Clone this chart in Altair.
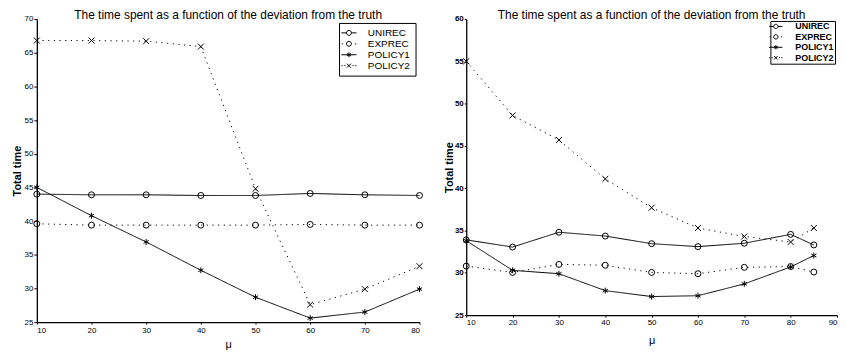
import altair as alt
import pandas as pd

series_names = ["UNIREC", "EXPREC", "POLICY1", "POLICY2"]

# Left panel
mu_left = [10, 20, 30, 40, 50, 60, 70, 80]
unirec_left = [44.0, 43.9, 43.9, 43.8, 43.8, 44.1, 43.9, 43.8]
exprec_left = [39.6, 39.4, 39.4, 39.4, 39.4, 39.5, 39.4, 39.4]
policy1_left = [45.0, 40.8, 36.9, 32.7, 28.7, 25.6, 26.5, 29.9]
policy2_left = [66.8, 66.8, 66.7, 65.9, 44.8, 27.6, 29.9, 33.3]

# Right panel
mu_right = [10, 20, 30, 40, 50, 60, 70, 80, 85]
unirec_right = [33.9, 33.05, 34.8, 34.35, 33.45, 33.1, 33.5, 34.55, 33.3]
exprec_right = [30.8, 30.05, 31.0, 30.9, 30.05, 29.9, 30.65, 30.75, 30.1]
policy1_right = [33.8, 30.3, 29.9, 27.9, 27.2, 27.3, 28.7, 30.7, 32.05]
policy2_right = [55.0, 48.6, 45.7, 41.1, 37.7, 35.3, 34.3, 33.65, 35.3]

ASTERISK = "M0,-1V1M-0.87,-0.5L0.87,0.5M-0.87,0.5L0.87,-0.5"
XMARK = "M-1,-1L1,1M-1,1L1,-1"
point_shapes = ["circle", "circle", ASTERISK, XMARK]
point_sizes = [36, 36, 18, 18]
dashes = [[1, 0], [1.2, 4.5], [1, 0], [1.2, 4.5]]

CIRC = "M0.62,0A0.62,0.62 0 1,1 -0.62,0A0.62,0.62 0 1,1 0.62,0Z"
legend_paths = [
    "M-1.9,0H-0.62M0.62,0H1.9" + CIRC,
    "M-1.8,0h0.3M1.5,0h0.3" + CIRC,
    "M-1.9,0H1.9M0,-0.6V0.6M-0.52,-0.3L0.52,0.3M-0.52,0.3L0.52,-0.3",
    "M-1.9,0h0.3M-1.2,0h0.3M0.9,0h0.3M1.6,0h0.3M-0.5,-0.5L0.5,0.5M-0.5,0.5L0.5,-0.5",
]

FONT = "Liberation Sans"
TITLE = "The time spent as a function of the deviation from the truth"


def make_df(mu, cols):
    rows = []
    for name, vals in zip(series_names, cols):
        for m, v in zip(mu, vals):
            rows.append({"mu": m, "time": v, "series": name})
    return pd.DataFrame(rows)


def panel(df, xdom, ydom, w, h, xaxis, yaxis, legend):
    x = alt.X("mu:Q", scale=alt.Scale(domain=xdom, nice=False), axis=xaxis)
    y = alt.Y("time:Q", scale=alt.Scale(domain=ydom, nice=False), axis=yaxis)
    lines = alt.Chart(df).mark_line(color="black", strokeWidth=1).encode(
        x=x, y=y,
        detail="series:N",
        strokeDash=alt.StrokeDash("series:N", scale=alt.Scale(domain=series_names, range=dashes), legend=None),
    )
    points = alt.Chart(df).mark_point(color="black", filled=False, strokeWidth=1, opacity=1).encode(
        x=x, y=y,
        shape=alt.Shape("series:N", scale=alt.Scale(domain=series_names, range=point_shapes), legend=None),
        size=alt.Size("series:N", scale=alt.Scale(domain=series_names, range=point_sizes), legend=None),
    )
    leg = alt.Chart(df).mark_point(color="black", filled=False, strokeWidth=1, opacity=1).encode(
        x=x, y=y,
        shape=alt.Shape("series:N", scale=alt.Scale(domain=series_names, range=legend_paths), legend=legend),
    ).transform_filter("false")
    return alt.layer(lines, points, leg).resolve_scale(shape="independent").resolve_legend(shape="independent").properties(
        width=w, height=h,
        title=alt.TitleParams(TITLE, fontSize=12, font=FONT, fontWeight="normal", color="black", offset=-7, anchor="middle", frame="group"),
    )


df_left = make_df(mu_left, [unirec_left, exprec_left, policy1_left, policy2_left])
df_right = make_df(mu_right, [unirec_right, exprec_right, policy1_right, policy2_right])

left = panel(
    df_left, [10, 80], [25, 70], 385, 305,
    alt.Axis(values=list(range(10, 81, 10)), title="μ", titleFontSize=11, titleFontWeight="normal",
             labelFontSize=8, tickSize=2, labelPadding=2, titlePadding=5),
    alt.Axis(values=list(range(25, 71, 5)), title="Total time", titleFontSize=11, titleFontWeight="bold",
             labelFontSize=8, tickSize=3, labelPadding=1, titlePadding=2),
    alt.Legend(title=None, orient="top-right", offset=4, symbolSize=64, labelOffset=14,
               labelFontSize=10, labelFont=FONT, labelColor="black", rowPadding=1, padding=5,
               strokeColor="black", fillColor="white", symbolStrokeColor="black", symbolStrokeWidth=1,
               symbolFillColor="transparent"),
)

right = panel(
    df_right, [10, 90], [25, 60], 373, 298,
    alt.Axis(values=list(range(10, 91, 10)), title="μ", titleFontSize=11, titleFontWeight="normal",
             labelFontSize=8, tickSize=2, labelPadding=1, titlePadding=8, labelFlush=True),
    alt.Axis(values=list(range(25, 61, 5)), title="Total time", titleFontSize=11, titleFontWeight="bold",
             labelFontSize=8, labelFontWeight="bold", tickSize=2, labelPadding=1, titlePadding=0),
    alt.Legend(title=None, orient="top-right", offset=2, symbolSize=49, labelOffset=15,
               labelFontSize=9, labelFontWeight="bold", labelFont=FONT, labelColor="black", rowPadding=0.5, padding=1,
               strokeColor="black", fillColor="white", symbolStrokeColor="black", symbolStrokeWidth=1,
               symbolFillColor="transparent"),
)

chart = alt.hconcat(left, right, spacing=19).properties(
    padding={"left": 3, "top": 0, "right": 0, "bottom": 0}
).configure_view(stroke=None).configure_axis(
    grid=False, domainColor="black", tickColor="black", labelColor="black", titleColor="black",
    labelFont=FONT, titleFont=FONT, domainWidth=1.3,
)

chart.save("out.html", embed_options={"renderer": "svg", "actions": False})
